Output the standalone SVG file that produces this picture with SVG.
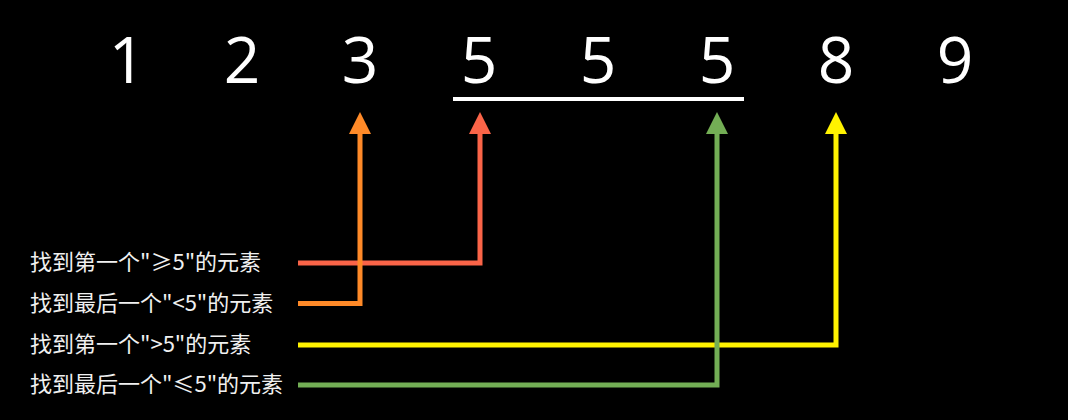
<svg xmlns="http://www.w3.org/2000/svg" width="1068" height="420" viewBox="0 0 1068 420">
<style>
.num{font-family:"Comic Sans MS","Open Sans","Liberation Sans",sans-serif;font-size:64px;fill:#ffffff;text-anchor:middle}
.lbl{font-family:"Noto Sans CJK SC","Noto Sans",sans-serif;font-size:22px;fill:#f0f0f0}
.c{fill:none;stroke-width:5;stroke-linejoin:miter}
</style>
<defs>
<marker id="mr" viewBox="0 0 22 22" refX="0" refY="11" markerWidth="22" markerHeight="22" markerUnits="userSpaceOnUse" orient="auto"><path d="M0,0 L22,11 L0,22 z" fill="#fa6448"/></marker>
<marker id="mo" viewBox="0 0 22 22" refX="0" refY="11" markerWidth="22" markerHeight="22" markerUnits="userSpaceOnUse" orient="auto"><path d="M0,0 L22,11 L0,22 z" fill="#ff8a28"/></marker>
<marker id="my" viewBox="0 0 22 22" refX="0" refY="11" markerWidth="22" markerHeight="22" markerUnits="userSpaceOnUse" orient="auto"><path d="M0,0 L22,11 L0,22 z" fill="#fff200"/></marker>
<marker id="mg" viewBox="0 0 22 22" refX="0" refY="11" markerWidth="22" markerHeight="22" markerUnits="userSpaceOnUse" orient="auto"><path d="M0,0 L22,11 L0,22 z" fill="#73ae55"/></marker>
</defs>
<rect width="1068" height="420" fill="#000000"/>
<g id="numbers">
<text class="num" x="127" y="83">1</text>
<text class="num" x="242" y="83">2</text>
<text class="num" x="360" y="83">3</text>
<text class="num" x="479" y="83">5</text>
<text class="num" x="598" y="83">5</text>
<text class="num" x="717" y="83">5</text>
<text class="num" x="836" y="83">8</text>
<text class="num" x="955" y="83">9</text>
</g>
<g id="underline"><line x1="453" y1="99" x2="744" y2="99" stroke="#ffffff" stroke-width="4"/></g>
<g id="label1"><text class="lbl" x="30" y="270">找到第一个"≥5"的元素</text></g>
<g id="label2"><text class="lbl" x="30" y="311">找到最后一个"&lt;5"的元素</text></g>
<g id="label3"><text class="lbl" x="30" y="352">找到第一个"&gt;5"的元素</text></g>
<g id="label4"><text class="lbl" x="30" y="392">找到最后一个"≤5"的元素</text></g>
<g id="connectors">
<path class="c" d="M298 263 H480 V134" stroke="#fa6448" marker-end="url(#mr)"/>
<path class="c" d="M298 303.5 H360 V134" stroke="#ff8a28" marker-end="url(#mo)"/>
<path class="c" d="M298 345 H836 V134" stroke="#fff200" marker-end="url(#my)"/>
<path class="c" d="M298 385 H717 V134" stroke="#73ae55" marker-end="url(#mg)"/>
</g>
</svg>
